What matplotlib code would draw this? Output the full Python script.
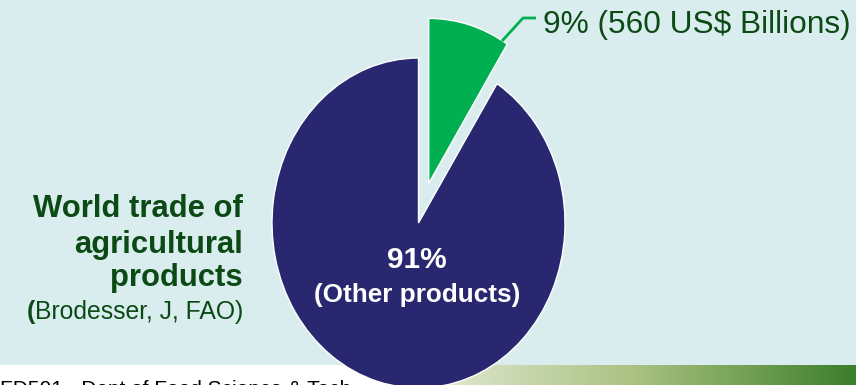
import matplotlib
matplotlib.use("Agg")
import matplotlib.pyplot as plt
import numpy as np
from matplotlib.colors import LinearSegmentedColormap

plt.rcParams['font.family'] = ['Liberation Sans', 'DejaVu Sans']

# Share of world trade
categories = ["Agricultural products", "Other products"]
shares = [9, 91]
agri_value_bn = 560
wedge_colors = ["#00B050", "#28276F"]

BG = "#D9ECEE"
TEXT_GREEN = "#0B4A14"
W, H = 856, 385

fig = plt.figure(figsize=(W / 100, H / 100), dpi=100)
fig.patch.set_facecolor(BG)

# Background layer in pixel coordinates: footer band with gradient strip
bg = fig.add_axes([0, 0, 1, 1])
bg.set_xlim(0, W)
bg.set_ylim(H, 0)
bg.axis("off")
bg.add_patch(plt.Rectangle((0, 365), W, 20, facecolor="white", edgecolor="none"))
grad_cmap = LinearSegmentedColormap.from_list(
    "band", [(0.0, "#F4F5EE"), (0.15, "#D8E2C4"), (0.53, "#A7C07F"), (1.0, "#3C7E2C")])
bg.imshow(np.linspace(0, 1, 256)[None, :], cmap=grad_cmap, aspect="auto",
          extent=[400, W, 385, 365], zorder=1)
bg.text(0, 380, "FD501 - Dept of Food Science & Tech", fontsize=15, color="black",
        ha="left", va="top", zorder=2)

# Pie layer (slightly taller than wide)
cx, cy, rx, ry = 418.5, 223.0, 146.5, 165.0
pax = fig.add_axes([0, 0, 1, 1])
pax.patch.set_alpha(0)
pax.pie(shares, colors=wedge_colors, explode=[0.25, 0], startangle=90,
        counterclock=False, wedgeprops=dict(edgecolor="white", linewidth=1.0))
pax.set_aspect("auto")
pax.set_xlim(-cx / rx, (W - cx) / rx)
pax.set_ylim(-(H - cy) / ry, cy / ry)
pax.axis("off")

# Text layer in pixel coordinates
tx = fig.add_axes([0, 0, 1, 1])
tx.patch.set_alpha(0)
tx.set_xlim(0, W)
tx.set_ylim(H, 0)
tx.axis("off")

# Callout for the agricultural slice
tx.plot([502, 523, 536], [41, 18, 18], color=wedge_colors[0], lw=2.0,
        solid_capstyle="butt")
tx.text(543, 33, f"{shares[0]}% ({agri_value_bn} US$ Billions)", fontsize=22.8,
        color=TEXT_GREEN, ha="left", va="baseline")

# Label inside the large slice
tx.text(417, 268, f"{shares[1]}%", fontsize=21.5, fontweight="bold",
        color="white", ha="center", va="baseline")
tx.text(417, 302, f"({categories[1]})", fontsize=18.8, fontweight="bold",
        color="white", ha="center", va="baseline")

# Title block on the left
for line, yb in [("World trade of", 217), ("agricultural", 252.5), ("products", 286)]:
    tx.text(243, yb, line, fontsize=22.3, fontweight="bold", color=TEXT_GREEN,
            ha="right", va="baseline")
src = tx.text(243, 319, "Brodesser, J, FAO)", fontsize=17.8, color=TEXT_GREEN,
              ha="right", va="baseline")
fig.canvas.draw()
bb = src.get_window_extent()
left_px = bb.x0  # display pixels, same as figure pixels at dpi 100
tx.text(left_px, 319, "(", fontsize=17.8, fontweight="bold", color=TEXT_GREEN,
        ha="right", va="baseline")

fig.savefig("out.png", dpi=100, facecolor=BG)
